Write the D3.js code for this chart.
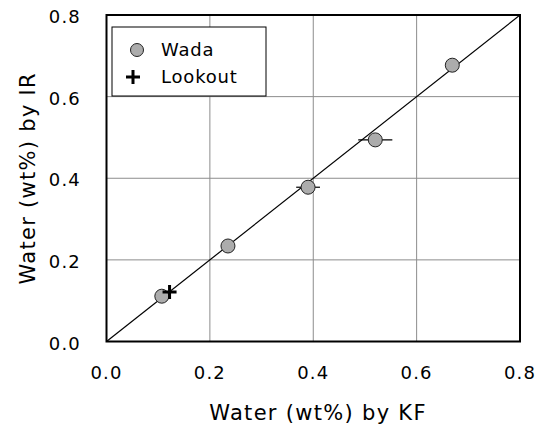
<!DOCTYPE html>
<html lang="en">
<head>
    <meta charset="UTF-8">
    <title>Water by IR vs KF</title>
    <script src="https://d3js.org/d3.v7.min.js"></script>
    <style>
        body { margin: 0; background: #fff; font-family: "DejaVu Sans", Verdana, sans-serif; }
        svg text { fill: #000; }
    </style>
</head>
<body>
    <div id="chart"></div>
    <script>
        // Data
        const wadaKF  = [0.107, 0.235, 0.390, 0.520, 0.669];
        const wadaIR  = [0.111, 0.234, 0.378, 0.494, 0.677];
        const wadaErr = [0, 0, 0.023, 0.033, 0];   // horizontal error (KF)
        const lookoutKF = [0.122];
        const lookoutIR = [0.121];
        const tickValues = [0, 0.2, 0.4, 0.6, 0.8];

        const width = 539, height = 427;
        const margin = { left: 106.5, right: 19, top: 15, bottom: 85.5 };

        const svg = d3.select('#chart').append('svg')
            .attr('width', width)
            .attr('height', height);

        const x = d3.scaleLinear().domain([0, 0.8]).range([margin.left, width - margin.right]);
        const y = d3.scaleLinear().domain([0, 0.8]).range([height - margin.bottom, margin.top]);

        // grid lines
        svg.append('g').selectAll('line.gx')
            .data(tickValues.slice(1, -1))
            .enter().append('line')
            .attr('x1', d => x(d)).attr('x2', d => x(d))
            .attr('y1', y(0)).attr('y2', y(0.8))
            .attr('stroke', '#8c8c8c').attr('stroke-width', 1);
        svg.append('g').selectAll('line.gy')
            .data(tickValues.slice(1, -1))
            .enter().append('line')
            .attr('x1', x(0)).attr('x2', x(0.8))
            .attr('y1', d => y(d)).attr('y2', d => y(d))
            .attr('stroke', '#8c8c8c').attr('stroke-width', 1);

        // 1:1 line
        svg.append('line')
            .attr('x1', x(0)).attr('y1', y(0))
            .attr('x2', x(0.8)).attr('y2', y(0.8))
            .attr('stroke', '#000').attr('stroke-width', 1.2);

        // frame
        svg.append('rect')
            .attr('x', x(0)).attr('y', y(0.8))
            .attr('width', x(0.8) - x(0)).attr('height', y(0) - y(0.8))
            .attr('fill', 'none').attr('stroke', '#000').attr('stroke-width', 2);

        // tick labels
        svg.append('g').selectAll('text')
            .data(tickValues)
            .enter().append('text')
            .attr('x', d => x(d)).attr('y', y(0) + 37)
            .attr('text-anchor', 'middle')
            .style('font-size', '18px').style('letter-spacing', '1.2px')
            .text(d => d3.format('.1f')(d));
        svg.append('g').selectAll('text')
            .data(tickValues)
            .enter().append('text')
            .attr('x', 81).attr('y', d => y(d) + 8)
            .attr('text-anchor', 'end')
            .style('font-size', '18px').style('letter-spacing', '1.2px')
            .text(d => d3.format('.1f')(d));

        // axis titles
        svg.append('text')
            .attr('x', 318).attr('y', 420)
            .attr('text-anchor', 'middle')
            .style('font-size', '21px').style('letter-spacing', '1.3px')
            .text('Water (wt%) by KF');
        svg.append('text')
            .attr('transform', `translate(35,${(y(0) + y(0.8)) / 2}) rotate(-90)`)
            .attr('text-anchor', 'middle')
            .style('font-size', '21px').style('letter-spacing', '1.3px')
            .text('Water (wt%) by IR');

        // error bars
        svg.append('g').selectAll('line')
            .data(wadaKF.map((d, i) => i).filter(i => wadaErr[i] > 0))
            .enter().append('line')
            .attr('x1', i => x(wadaKF[i] - wadaErr[i]))
            .attr('x2', i => x(wadaKF[i] + wadaErr[i]))
            .attr('y1', i => y(wadaIR[i])).attr('y2', i => y(wadaIR[i]))
            .attr('stroke', '#000').attr('stroke-width', 1.2);

        // Wada points
        svg.append('g').selectAll('circle')
            .data(wadaKF)
            .enter().append('circle')
            .attr('cx', d => x(d))
            .attr('cy', (d, i) => y(wadaIR[i]))
            .attr('r', 7)
            .attr('fill', '#acacac')
            .attr('stroke', '#222').attr('stroke-width', 1);

        // Lookout points
        svg.append('g').selectAll('path')
            .data(lookoutKF)
            .enter().append('path')
            .attr('d', 'M-7,0H7M0,-7V7')
            .attr('transform', (d, i) => `translate(${x(d)},${y(lookoutIR[i])})`)
            .attr('stroke', '#000').attr('stroke-width', 3);

        // legend
        const lg = svg.append('g');
        lg.append('rect')
            .attr('x', 112).attr('y', 27).attr('width', 154).attr('height', 69)
            .attr('fill', '#fff').attr('stroke', '#000').attr('stroke-width', 1);
        lg.append('circle')
            .attr('cx', 137).attr('cy', 50).attr('r', 6.5)
            .attr('fill', '#acacac').attr('stroke', '#222').attr('stroke-width', 1);
        lg.append('path')
            .attr('d', 'M-7,0H7M0,-7V7')
            .attr('transform', 'translate(133,77)')
            .attr('stroke', '#000').attr('stroke-width', 3);
        lg.append('text').attr('x', 161).attr('y', 56)
            .style('font-size', '18px').style('letter-spacing', '0.8px').text('Wada');
        lg.append('text').attr('x', 161).attr('y', 83)
            .style('font-size', '18px').style('letter-spacing', '0.8px').text('Lookout');
    </script>
</body>
</html>
